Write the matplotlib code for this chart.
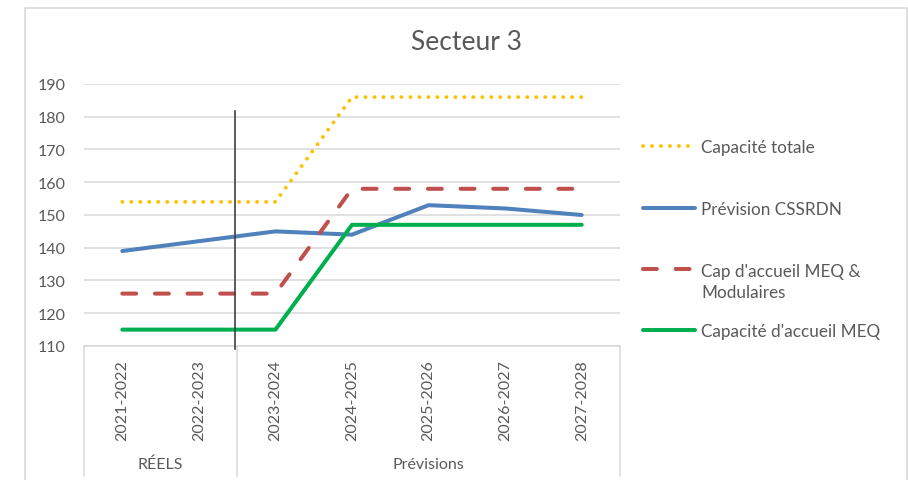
import matplotlib
matplotlib.use("Agg")
import matplotlib.pyplot as plt
from matplotlib.lines import Line2D

plt.rcParams['font.family'] = ['Lato', 'DejaVu Sans']

categories = ["2021-2022", "2022-2023", "2023-2024", "2024-2025", "2025-2026", "2026-2027", "2027-2028"]
groups = ["RÉELS", "Prévisions"]
group_sizes = [2, 5]

capacite_totale = [154, 154, 154, 186, 186, 186, 186]
prevision_cssrdn = [139, 142, 145, 144, 153, 152, 150]
cap_meq_modulaires = [126, 126, 126, 158, 158, 158, 158]
capacite_meq = [115, 115, 115, 147, 147, 147, 147]

series_labels = ["Capacité totale", "Prévision CSSRDN", "Cap d'accueil MEQ &\nModulaires", "Capacité d'accueil MEQ"]
yticks = [110, 120, 130, 140, 150, 160, 170, 180, 190]

TXT = "#595959"
GRID = "#d9d9d9"
W, H = 908, 481

fig = plt.figure(figsize=(W / 100, H / 100), dpi=100)

def fx(px):
    return px / W

def fy(py):
    return 1 - py / H

ax = fig.add_axes([fx(84), fy(347), fx(620) - fx(84), fy(85) - fy(347)])
x = list(range(len(categories)))

styles = [
    dict(color="#FFC000", lw=2.8, linestyle=(0, (0.01, 2.3)), dash_capstyle="round"),
    dict(color="#4F81BD", lw=2.9, linestyle="-", solid_capstyle="round", solid_joinstyle="round"),
    dict(color="#C0504D", lw=2.9, linestyle=(0, (3.45, 4.65)), dash_capstyle="round"),
    dict(color="#00B050", lw=2.9, linestyle="-", solid_capstyle="round", solid_joinstyle="round"),
]
series = [capacite_totale, prevision_cssrdn, cap_meq_modulaires, capacite_meq]
for vals, st in zip(series, styles):
    ax.plot(x, vals, zorder=3, **st)

ax.set_xlim(-0.5, len(categories) - 0.5)
ax.set_ylim(110, 190)
ax.set_yticks(yticks)
ax.set_yticklabels([str(v) for v in yticks], color=TXT, fontsize=11.5)
ax.tick_params(axis="y", length=0, pad=13)
ax.set_xticks([])
ax.grid(axis="y", color=GRID, lw=1.1)
ax.set_axisbelow(True)
for s in ["top", "right", "left"]:
    ax.spines[s].set_visible(False)
ax.spines["bottom"].set_color(GRID)
ax.spines["bottom"].set_linewidth(1.1)

n = len(categories)
for i, c in enumerate(categories):
    fig.text(fx(84) + (fx(620) - fx(84)) * (i + 0.5) / n, fy(360), c,
             rotation=90, ha="center", va="top", color=TXT, fontsize=11.5)

start = 0
bounds = [0]
for g, size in zip(groups, group_sizes):
    center = start + size / 2
    fig.text(fx(84) + (fx(620) - fx(84)) * center / n, fy(465), g,
             ha="center", va="center", color=TXT, fontsize=11.5)
    start += size
    bounds.append(start)
for b in bounds:
    xb = fx(84) + (fx(620) - fx(84)) * b / n
    fig.add_artist(Line2D([xb, xb], [fy(347), fy(477)], color=GRID, lw=1.1))

# separator line drawn on the chart
fig.add_artist(Line2D([fx(235), fx(235)], [fy(112), fy(350)], color="#404040", lw=1.2, zorder=5))

# outer chart border
fig.add_artist(Line2D([fx(25), fx(25), fx(907), fx(907)], [0, fy(9), fy(9), 0], color=GRID, lw=1.2))

# title
fig.text(fx(467), fy(43), "Secteur 3", ha="center", va="center", color=TXT, fontsize=19)

# legend
leg_y = [147, 209, 270, 331]
for st, lab, yy in zip(styles, series_labels, leg_y):
    fig.add_artist(Line2D([fx(643), fx(695)], [fy(yy), fy(yy)], **st))
    for k, part in enumerate(lab.split("\n")):
        fig.text(fx(701), fy(yy + 22 * k), part, ha="left", va="center_baseline",
                 color=TXT, fontsize=12.3)

fig.savefig("out.png", dpi=100)
